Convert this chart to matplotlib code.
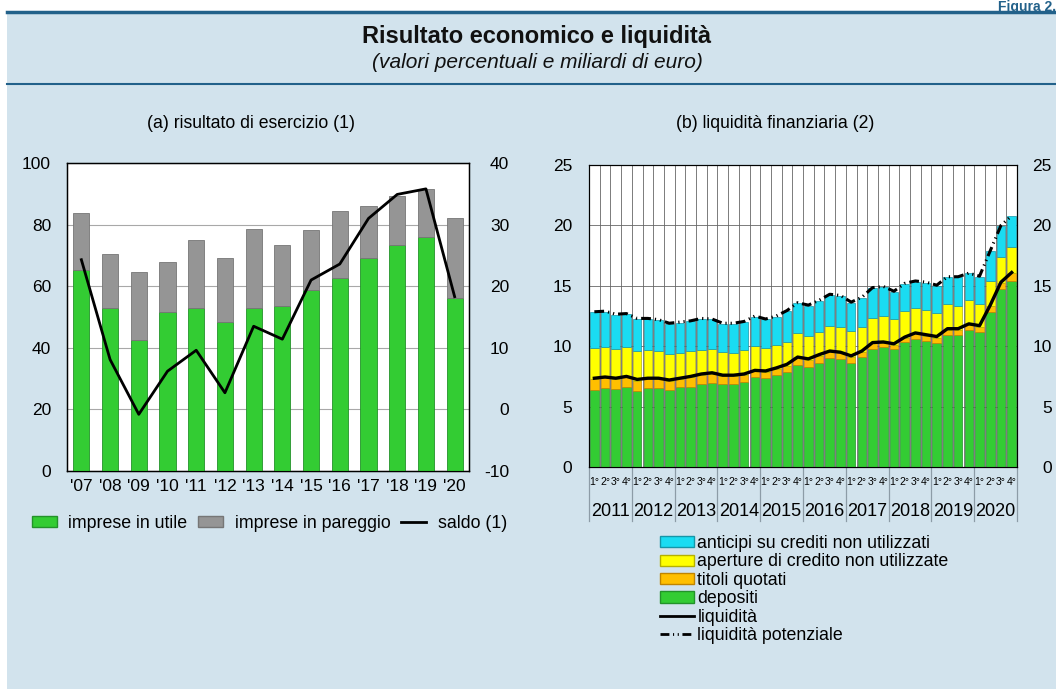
import numpy as np
import matplotlib.pyplot as plt
from matplotlib.patches import Patch, Rectangle
from matplotlib.lines import Line2D

plt.rcParams['font.family'] = ['Liberation Sans', 'DejaVu Sans']
plt.rcParams['axes.unicode_minus'] = False

# (a) risultato di esercizio
anni_a = ["'07", "'08", "'09", "'10", "'11", "'12", "'13", "'14", "'15", "'16", "'17", "'18", "'19", "'20"]
utile = [65.1, 52.8, 42.4, 51.5, 52.8, 48.5, 52.8, 53.7, 58.9, 62.6, 69.3, 73.5, 76.1, 56.3]
pareggio = [18.6, 17.6, 22.1, 16.2, 22.1, 20.5, 25.9, 19.6, 19.3, 21.7, 16.6, 15.7, 15.5, 25.8]
saldo = [24.3, 8.1, -0.8, 6.2, 9.6, 2.7, 13.5, 11.4, 21.0, 23.6, 31.0, 34.9, 35.8, 18.3]

# (b) liquidita finanziaria, trimestrale 2011-2020
anni_b = ['2011', '2012', '2013', '2014', '2015', '2016', '2017', '2018', '2019', '2020']
trimestri = ['1°', '2°', '3°', '4°']
depositi = [6.35, 6.51, 6.43, 6.60, 6.29, 6.51, 6.51, 6.37, 6.60, 6.65,
            6.87, 6.98, 6.85, 6.85, 7.01, 7.42, 7.34, 7.59, 7.84, 8.44,
            8.30, 8.64, 9.05, 8.91, 8.58, 9.08, 9.74, 9.91, 9.74, 10.32,
            10.57, 10.43, 10.24, 10.90, 10.90, 11.32, 11.15, 12.86, 14.71, 15.42]
titoli = [0.91, 0.83, 0.83, 0.82, 0.85, 0.77, 0.77, 0.75, 0.68, 0.77,
          0.77, 0.74, 0.68, 0.68, 0.61, 0.53, 0.55, 0.52, 0.55, 0.64,
          0.56, 0.55, 0.50, 0.50, 0.55, 0.47, 0.50, 0.33, 0.33, 0.33,
          0.44, 0.41, 0.47, 0.44, 0.44, 0.43, 0.47, 0.47, 0.55, 0.61]
aperture = [2.56, 2.62, 2.48, 2.54, 2.44, 2.38, 2.30, 2.21, 2.16, 2.16,
            2.05, 2.08, 1.99, 1.93, 2.07, 2.04, 1.93, 1.99, 1.98, 2.01,
            1.98, 2.01, 2.15, 2.21, 2.10, 2.04, 2.12, 2.29, 2.15, 2.24,
            2.12, 2.13, 2.07, 2.13, 2.02, 2.05, 1.85, 2.04, 2.15, 2.16]
anticipi = [2.98, 2.90, 2.86, 2.70, 2.70, 2.62, 2.56, 2.51, 2.51, 2.48,
            2.56, 2.42, 2.32, 2.37, 2.34, 2.45, 2.40, 2.34, 2.52, 2.46,
            2.49, 2.54, 2.57, 2.56, 2.37, 2.43, 2.43, 2.40, 2.29, 2.29,
            2.21, 2.29, 2.23, 2.23, 2.34, 2.23, 2.29, 2.51, 2.54, 2.56]
liquidita = [7.35, 7.45, 7.35, 7.50, 7.25, 7.35, 7.35, 7.20, 7.35, 7.50,
             7.70, 7.80, 7.60, 7.60, 7.70, 8.00, 7.95, 8.20, 8.50, 9.10,
             8.95, 9.30, 9.60, 9.50, 9.20, 9.60, 10.30, 10.35, 10.20, 10.75,
             11.10, 10.95, 10.80, 11.45, 11.45, 11.85, 11.70, 13.40, 15.30, 16.10]
potenziale = [12.85, 12.90, 12.65, 12.70, 12.30, 12.30, 12.20, 11.90, 12.00, 12.10,
              12.30, 12.25, 11.90, 11.90, 12.05, 12.50, 12.25, 12.50, 12.95, 13.60,
              13.40, 13.80, 14.30, 14.20, 13.65, 14.05, 14.85, 14.95, 14.55, 15.20,
              15.40, 15.30, 15.05, 15.75, 15.75, 16.05, 15.80, 17.90, 20.00, 20.80]

bg = '#d2e3ed'
blu = '#22618a'
verde, verde_b = '#33cc33', '#23922a'
grigio, grigio_b = '#959595', '#767676'
ciano, ciano_b = '#1adcf2', '#1596a8'
giallo, giallo_b = '#ffff00', '#b5b000'
arancio, arancio_b = '#ffbf00', '#c08400'
FS = 12.5
FL = 12.8
tratteggio = (0, (3.2, 1.3, 0.4, 1.3, 0.4, 1.3))

W, H = 1056, 689
fig = plt.figure(figsize=(W / 100, H / 100), dpi=100, facecolor='white')
fig.patches.append(Rectangle((7 / W, 0), 1, 1 - 13 / H, transform=fig.transFigure,
                             facecolor=bg, edgecolor='none', zorder=-10))
fig.add_artist(Line2D([7 / W, 1], [1 - 11.5 / H] * 2, color=blu, lw=2.5))
fig.add_artist(Line2D([7 / W, 1], [1 - 84 / H] * 2, color=blu, lw=1.5))
fig.text(1.0, 1.0, 'Figura 2.', ha='right', va='top', color=blu,
         fontsize=10, fontweight='bold')
fig.text(537 / W, 1 - 36 / H, 'Risultato economico e liquidità', ha='center', va='center',
         fontsize=17, fontweight='bold', color='#111111')
fig.text(537 / W, 1 - 63 / H, '(valori percentuali e miliardi di euro)', ha='center',
         va='center', fontsize=15, style='italic', color='#111111')
fig.text(251 / W, 1 - 124 / H, '(a) risultato di esercizio (1)', ha='center', va='center',
         fontsize=12.7)
fig.text(775 / W, 1 - 124 / H, '(b) liquidità finanziaria (2)', ha='center', va='center',
         fontsize=12.7)

# ---- pannello (a)
ax1 = fig.add_axes([67 / W, 1 - 471 / H, 402 / W, 308 / H])
x = np.arange(len(anni_a))
ax1.bar(x, utile, width=0.56, color=verde, edgecolor=verde_b, lw=0.6, zorder=3)
ax1.bar(x, pareggio, width=0.56, bottom=utile, color=grigio, edgecolor=grigio_b, lw=0.6, zorder=3)
ax1.set_xlim(-0.5, len(anni_a) - 0.5)
ax1.set_ylim(0, 100)
ax1.set_yticks(range(0, 101, 20))
ax1.set_xticks(x)
ax1.set_xticklabels(anni_a)
ax1.grid(axis='y', color='#a8a8a8', lw=0.8, zorder=0)
ax1.tick_params(length=0, labelsize=FS)
ax1.tick_params(axis='y', pad=11.5)
ax1.tick_params(axis='x', pad=6)
ax1.set_facecolor('white')
for s in ax1.spines.values():
    s.set_linewidth(1.0)
ax1b = ax1.twinx()
ax1b.plot(x, saldo, color='black', lw=2, zorder=5)
ax1b.set_ylim(-10, 40)
ax1b.set_yticks(range(-10, 41, 10))
ax1b.tick_params(length=0, labelsize=FS, pad=29)
for lab in ax1b.get_yticklabels():
    lab.set_ha('right')

fig.legend([Patch(facecolor=verde, edgecolor=verde_b), Patch(facecolor=grigio, edgecolor=grigio_b),
            Line2D([], [], color='black', lw=2)],
           ['imprese in utile', 'imprese in pareggio', 'saldo (1)'],
           loc='center left', bbox_to_anchor=(32 / W, 1 - 523 / H), ncol=3, frameon=False,
           fontsize=FL, handlelength=1.4, handleheight=0.6, handletextpad=0.65,
           columnspacing=0.6, borderpad=0, borderaxespad=0)

# ---- pannello (b)
ax2 = fig.add_axes([589 / W, 1 - 467 / H, 428 / W, 302 / H])
n = len(depositi)
xb = np.arange(n)
b1 = np.array(depositi)
b2 = b1 + np.array(titoli)
b3 = b2 + np.array(aperture)
ax2.bar(xb, depositi, width=0.8, color=verde, edgecolor=verde_b, lw=0.5, zorder=3)
ax2.bar(xb, titoli, width=0.8, bottom=b1, color=arancio, edgecolor=arancio_b, lw=0.5, zorder=3)
ax2.bar(xb, aperture, width=0.8, bottom=b2, color=giallo, edgecolor=giallo_b, lw=0.5, zorder=3)
ax2.bar(xb, anticipi, width=0.8, bottom=b3, color=ciano, edgecolor=ciano_b, lw=0.5, zorder=3)
ax2.plot(xb, liquidita, color='black', lw=2.4, zorder=5)
ax2.plot(xb, potenziale, color='black', lw=2.2, zorder=5, linestyle=tratteggio)
ax2.set_xlim(-0.5, n - 0.5)
ax2.set_ylim(0, 25)
ax2.set_yticks(range(0, 26, 5))
ax2.set_xticks([])
for xv in np.arange(0.5, n - 1, 1):
    ax2.axvline(xv, color='#666666', lw=0.6, zorder=1)
for yv in range(5, 25, 5):
    ax2.axhline(yv, color='#666666', lw=0.6, zorder=1)
ax2.tick_params(length=0, labelsize=FS, pad=12)
ax2.set_facecolor('white')
ax2b = ax2.twinx()
ax2b.set_ylim(0, 25)
ax2b.set_yticks(range(0, 26, 5))
ax2b.tick_params(length=0, labelsize=FS, pad=25)
for lab in ax2b.get_yticklabels():
    lab.set_ha('right')

tr = ax2.get_xaxis_transform()
for i in range(n):
    ax2.text(xb[i], -0.05, trimestri[i % 4], transform=tr, ha='center', va='center', fontsize=7.5)
for k, a in enumerate(anni_b):
    ax2.text(4 * k + 1.5, -0.146, a, transform=tr, ha='center', va='center', fontsize=13)
for xv in np.arange(-0.5, n + 0.5, 4):
    ax2.plot([xv, xv], [0, -0.18], transform=tr, color='#8d9ca7', lw=0.9, clip_on=False)

fig.legend([Patch(facecolor=ciano, edgecolor=ciano_b), Patch(facecolor=giallo, edgecolor=giallo_b),
            Patch(facecolor=arancio, edgecolor=arancio_b), Patch(facecolor=verde, edgecolor=verde_b),
            Line2D([], [], color='black', lw=2),
            Line2D([], [], color='black', lw=2, linestyle=tratteggio)],
           ['anticipi su crediti non utilizzati', 'aperture di credito non utilizzate',
            'titoli quotati', 'depositi', 'liquidità', 'liquidità potenziale'],
           loc='upper left', bbox_to_anchor=(660 / W, 1 - 535 / H), frameon=False,
           fontsize=FL, handlelength=1.9, handleheight=0.6, handletextpad=0.2,
           labelspacing=0.08, borderpad=0, borderaxespad=0)

fig.savefig('out.png', dpi=100, facecolor='white')
